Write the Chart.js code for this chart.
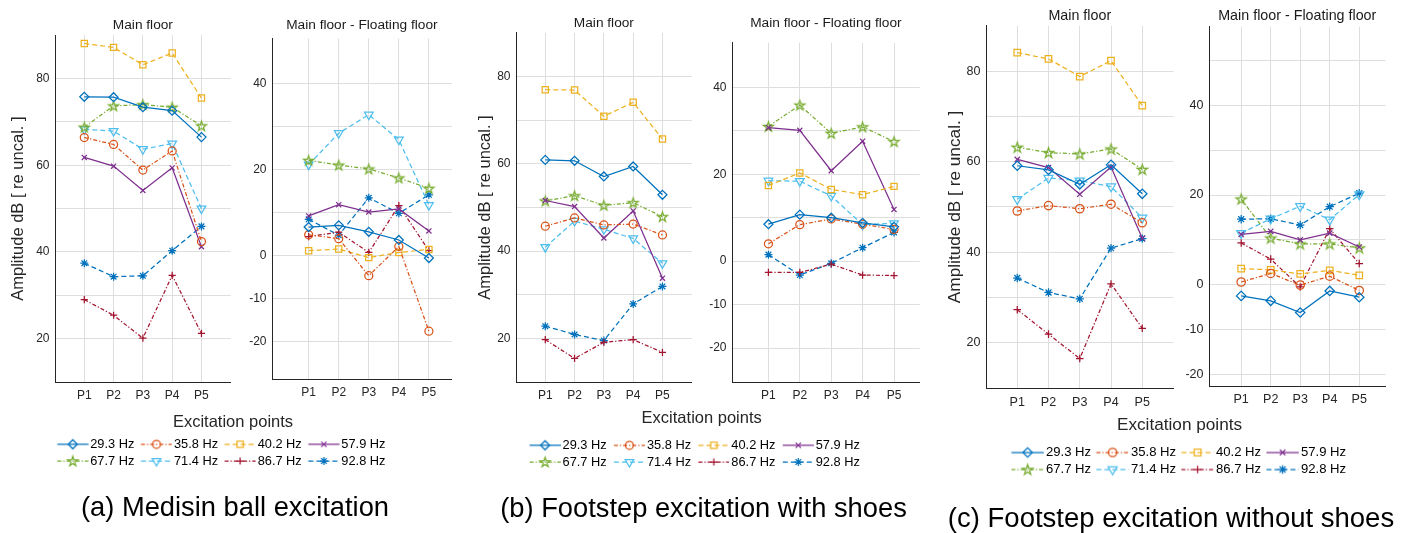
<!DOCTYPE html>
<html><head><meta charset="utf-8">
<script src="https://cdn.jsdelivr.net/npm/chart.js@4.4.1/dist/chart.umd.min.js"></script>
<style>
html,body{margin:0;padding:0;background:#fff;}
body{width:1406px;height:533px;position:relative;overflow:hidden;font-family:"Liberation Sans",Arial,Helvetica,sans-serif;}
canvas{position:absolute;}
.txt{position:absolute;white-space:nowrap;transform:translate(-50%,-50%);line-height:1;}
</style></head><body>
<script>
// ---------------- data ----------------
const excitationPoints = ['P1','P2','P3','P4','P5'];
const frequencies = ['29.3 Hz','35.8 Hz','40.2 Hz','57.9 Hz','67.7 Hz','71.4 Hz','86.7 Hz','92.8 Hz'];
const mainTickLabels = [20,40,60,80];
const diffTickLabels = [40,20,0,-10,-20];
const panelTitles = ['Main floor','Main floor - Floating floor'];
const yAxisTitle = 'Amplitude dB [ re uncal. ]';
const xAxisTitle = 'Excitation points';
const captions = ['(a) Medisin ball excitation','(b) Footstep excitation with shoes','(c) Footstep excitation without shoes'];

// (a) medicine ball excitation
const ballMain = [
  [75.8,75.7,73.4,72.6,66.5],
  [66.4,64.8,58.9,63.3,42.4],
  [88.1,87.2,83.2,85.9,75.5],
  [61.8,59.8,54.2,59.4,41.2],
  [68.8,73.7,74.0,73.4,69.1],
  [68.3,67.9,63.7,65.0,50.0],
  [29.0,25.4,20.1,34.6,21.2],
  [37.4,34.3,34.5,40.3,45.9]
];
const ballDiff = [
  [6.7,7.1,5.6,3.7,-0.5],
  [4.9,4.0,-4.6,2.2,-17.5],
  [1.2,1.6,-0.4,0.8,1.5],
  [9.3,11.9,10.2,10.9,5.8],
  [22.2,21.1,20.2,18.1,15.7],
  [21.2,28.5,32.8,27.0,11.8],
  [4.5,5.5,0.8,11.7,1.2],
  [8.5,4.8,13.5,9.9,14.2]
];
// (b) footstep with shoes
const shoesMain = [
  [60.9,60.7,57.1,59.4,52.9],
  [45.7,47.6,46.0,46.2,43.7],
  [77.0,76.9,70.9,74.1,65.7],
  [51.6,50.2,43.0,49.2,33.8],
  [51.5,52.7,50.5,51.1,47.9],
  [40.9,46.9,45.0,42.9,37.2],
  [19.7,15.4,19.1,19.7,16.8],
  [22.8,20.9,19.5,27.9,31.9]
];
const shoesDiff = [
  [8.5,10.7,10.0,8.8,7.9],
  [4.0,8.4,9.7,8.5,7.3],
  [17.4,20.3,16.5,15.3,17.2],
  [30.7,30.1,20.8,27.6,11.9],
  [31.0,35.9,29.4,30.9,27.5],
  [18.5,18.4,15.0,8.4,8.7],
  [-2.6,-2.6,-0.7,-3.2,-3.3],
  [1.5,-3.2,-0.5,3.1,6.6]
];
// (c) footstep without shoes
const barefootMain = [
  [59.1,58.2,55.0,59.3,52.9],
  [49.1,50.3,49.6,50.6,46.5],
  [84.1,82.7,78.8,82.3,72.4],
  [60.5,58.7,52.8,58.8,43.1],
  [63.2,62.0,61.7,62.8,58.3],
  [51.7,56.4,55.8,54.5,47.6],
  [27.3,21.9,16.5,33.0,23.2],
  [34.3,31.1,29.7,40.9,43.0]
];
const barefootDiff = [
  [-2.5,-3.6,-6.2,-1.4,-2.8],
  [0.6,2.5,-0.1,1.9,-1.3],
  [3.6,3.3,2.4,3.2,2.1],
  [11.2,11.9,10.0,11.5,8.4],
  [19.1,10.4,9.1,9.1,8.2],
  [11.5,14.7,17.5,14.5,20.1],
  [9.3,5.7,-0.5,12.5,4.7],
  [14.6,14.7,13.3,17.4,20.4]
];

// ---------------- styles ----------------
const FAMILY = '"Liberation Sans", Arial, Helvetica, sans-serif';
const seriesColors = ['#0072BD','#D95319','#EDB120','#7E2F8E','#77AC30','#4DBEEE','#A2142F','#0072BD'];
const seriesDash = ['solid','dashdot','dash','solid','dashdot','dash','dashdot','dash'];
const seriesMarkers = ['diamond','circle','square','x','pentagram','tri','plus','asterisk'];
const DASH = {solid: [], dash: [5,3], dashdot: [4,2,1.2,2]};
const LW = 1.25;
const AXIS_COLOR = '#262626';
const GRID_COLOR = '#dedede';

function starPath(ctx, cx, cy, R) {
  const r = R * 0.382;
  ctx.beginPath();
  for (let i = 0; i < 10; i++) {
    const a = -Math.PI / 2 + i * Math.PI / 5;
    const rr = (i % 2) ? r : R;
    const px = cx + rr * Math.cos(a), py = cy + rr * Math.sin(a);
    if (i) ctx.lineTo(px, py); else ctx.moveTo(px, py);
  }
  ctx.closePath();
}
function pentagramCanvas(color, k) {
  const R = 5.2 * k;
  const size = Math.ceil(2 * R + 4);
  const c = document.createElement('canvas');
  c.width = size; c.height = size;
  const ctx = c.getContext('2d');
  ctx.strokeStyle = color; ctx.lineWidth = LW;
  starPath(ctx, size / 2, size / 2 + R * 0.1, R);
  ctx.stroke();
  return c;
}
function markerFor(type, color, k) {
  switch (type) {
    case 'diamond': return {style: 'rectRot', radius: 4.5 * k, rot: 0};
    case 'circle': return {style: 'circle', radius: 4 * k, rot: 0};
    case 'square': return {style: 'rect', radius: 4.4 * k, rot: 0};
    case 'x': return {style: 'crossRot', radius: 3.6 * k, rot: 0};
    case 'pentagram': return {style: pentagramCanvas(color, k), radius: 5 * k, rot: 0};
    case 'tri': return {style: 'triangle', radius: 5 * k, rot: 180};
    case 'plus': return {style: 'cross', radius: 3.6 * k, rot: 0};
    case 'asterisk': return {style: 'star', radius: 4 * k, rot: 0};
  }
}
function drawMarker(ctx, type, x, y, k) {
  ctx.setLineDash([]);
  ctx.beginPath();
  switch (type) {
    case 'diamond': { const r = 4.5 * k; ctx.moveTo(x - r, y); ctx.lineTo(x, y - r); ctx.lineTo(x + r, y); ctx.lineTo(x, y + r); ctx.closePath(); break; }
    case 'circle': ctx.arc(x, y, 4 * k, 0, Math.PI * 2); break;
    case 'square': { const h = 3.2 * k; ctx.rect(x - h, y - h, 2 * h, 2 * h); break; }
    case 'x': { const h = 2.6 * k; ctx.moveTo(x - h, y - h); ctx.lineTo(x + h, y + h); ctx.moveTo(x + h, y - h); ctx.lineTo(x - h, y + h); break; }
    case 'plus': { const h = 3.6 * k; ctx.moveTo(x - h, y); ctx.lineTo(x + h, y); ctx.moveTo(x, y - h); ctx.lineTo(x, y + h); break; }
    case 'asterisk': { const h = 4 * k, d = h * Math.SQRT1_2;
      ctx.moveTo(x - h, y); ctx.lineTo(x + h, y); ctx.moveTo(x, y - h); ctx.lineTo(x, y + h);
      ctx.moveTo(x - d, y - d); ctx.lineTo(x + d, y + d); ctx.moveTo(x + d, y - d); ctx.lineTo(x - d, y + d); break; }
    case 'tri': { const r = 5 * k; ctx.moveTo(x, y + r); ctx.lineTo(x - r * 0.866, y - r * 0.5); ctx.lineTo(x + r * 0.866, y - r * 0.5); ctx.closePath(); break; }
    case 'pentagram': starPath(ctx, x, y + 0.5, 5.2 * k); break;
  }
  ctx.stroke();
}

function buildDatasets(values, k) {
  return values.map((row, i) => {
    const m = markerFor(seriesMarkers[i], seriesColors[i], k);
    return {
      label: frequencies[i],
      data: row.map((v, j) => ({x: j + 1, y: v})),
      borderColor: seriesColors[i],
      borderWidth: LW,
      borderDash: DASH[seriesDash[i]],
      pointStyle: m.style,
      pointRadius: m.radius,
      pointHoverRadius: m.radius,
      pointRotation: m.rot,
      pointBorderColor: seriesColors[i],
      pointBackgroundColor: 'rgba(0,0,0,0)',
      pointBorderWidth: LW,
      tension: 0,
      fill: false
    };
  });
}

// ---------------- panels ----------------
function makePanel(g) {
  const k = g.k;
  const titleFs = 13.7 * k;
  const titleH = titleFs * 1.2 + g.titleGap;
  const xAxisH = 30;
  const plotW = g.plotR - g.plotL, plotH = g.plotB - g.plotT;
  const W = Math.round(g.yAxisW + plotW);
  const H = Math.round(titleH + plotH + xAxisH);
  const c = document.createElement('canvas');
  c.width = W; c.height = H;
  c.style.left = (g.plotL - g.yAxisW) + 'px';
  c.style.top = (g.plotT - titleH) + 'px';
  c.style.width = W + 'px'; c.style.height = H + 'px';
  document.body.appendChild(c);
  const yTitleFs = 16.5 * k;
  const yTitle = g.yTitleX != null ? {
    display: true, text: yAxisTitle, color: AXIS_COLOR,
    font: {family: FAMILY, size: yTitleFs},
    padding: {top: g.yTitleX - (g.plotL - g.yAxisW) - yTitleFs * 0.6, bottom: 0}
  } : {display: false};
  new Chart(c, {
    type: 'line',
    data: {datasets: buildDatasets(g.values, k)},
    options: {
      responsive: false, animation: false, events: [],
      layout: {padding: 0},
      plugins: {
        legend: {display: false},
        tooltip: {enabled: false},
        title: {display: true, text: g.title, fullSize: false, color: '#1a1a1a',
          font: {family: FAMILY, size: titleFs, weight: 'normal'},
          padding: {top: 0, bottom: g.titleGap}}
      },
      scales: {
        x: {
          type: 'linear', min: g.xmin, max: g.xmax,
          afterFit: s => { s.height = xAxisH; },
          afterBuildTicks: s => { s.ticks = excitationPoints.map((p, i) => ({value: i + 1})); },
          ticks: {callback: v => excitationPoints[Math.round(v) - 1] || '', padding: g.xPad, color: AXIS_COLOR,
            font: {family: FAMILY, size: 12 * k}, maxRotation: 0, autoSkip: false},
          grid: {color: GRID_COLOR, drawTicks: false, lineWidth: 1},
          border: {display: true, color: AXIS_COLOR, width: 1}
        },
        y: {
          type: 'linear', min: g.ymin, max: g.ymax,
          afterFit: s => { s.width = g.yAxisW; },
          afterBuildTicks: s => {
            const t = [];
            for (let v = Math.ceil(g.ymin / 10) * 10; v <= g.ymax - 0.6; v += 10) t.push({value: v});
            s.ticks = t;
          },
          ticks: {callback: v => g.labels.includes(v) ? String(v) : '', padding: 5.5, color: AXIS_COLOR,
            font: {family: FAMILY, size: 12 * k}, autoSkip: false},
          grid: {color: GRID_COLOR, drawTicks: false, lineWidth: 1},
          border: {display: true, color: AXIS_COLOR, width: 1},
          title: yTitle
        }
      }
    }
  });
}

// ---------------- legends ----------------
function makeLegend(g) {
  const k = g.k, fs = g.fs;
  const pad = g.rowSp - fs;
  const itemW = g.colSp - pad;
  const mctx = document.createElement('canvas').getContext('2d');
  mctx.font = fs + 'px ' + FAMILY;
  const textW = Math.max(...frequencies.map(f => mctx.measureText(f).width));
  const boxW = itemW - fs / 2 - textW;
  const textOff = boxW + fs / 2;
  const gap = 2 * k, lineLen = 31 * k;
  const lineEnd = textOff - gap;
  const lineBeg = lineEnd - lineLen;
  const iconW = Math.ceil(2 * (lineEnd - boxW / 2));
  const iconLeft = boxW / 2 - iconW / 2;
  const iconH = 16;
  const icons = frequencies.map((f, i) => {
    const ic = document.createElement('canvas');
    ic.width = iconW; ic.height = iconH;
    const ctx = ic.getContext('2d');
    ctx.strokeStyle = seriesColors[i]; ctx.lineWidth = LW;
    ctx.setLineDash(DASH[seriesDash[i]]);
    const y0 = iconH / 2;
    ctx.beginPath(); ctx.moveTo(lineBeg - iconLeft, y0); ctx.lineTo(lineEnd - iconLeft, y0); ctx.stroke();
    drawMarker(ctx, seriesMarkers[i], (lineBeg + lineEnd) / 2 - iconLeft, y0, k);
    return ic;
  });
  const itemX0 = g.lineStart - lineBeg;
  const rowW = 3 * g.colSp + itemW;
  const W = 400, H = 110;
  const c = document.createElement('canvas');
  c.width = W; c.height = H;
  c.style.left = (itemX0 + rowW / 2 - W / 2) + 'px';
  c.style.top = (g.rowY - pad - fs / 2) + 'px';
  c.style.width = W + 'px'; c.style.height = H + 'px';
  document.body.appendChild(c);
  new Chart(c, {
    type: 'line',
    data: {datasets: frequencies.map((f, i) => ({label: f, data: [], borderColor: seriesColors[i]}))},
    options: {
      responsive: false, animation: false, events: [],
      layout: {padding: 0},
      scales: {x: {display: false}, y: {display: false}},
      plugins: {
        tooltip: {enabled: false},
        legend: {
          display: true, position: 'top', align: 'center',
          labels: {
            usePointStyle: true, pointStyleWidth: boxW, padding: pad, color: '#000',
            font: {family: FAMILY, size: fs},
            generateLabels: () => frequencies.map((f, i) => ({
              text: f, pointStyle: icons[i], fillStyle: 'rgba(0,0,0,0)', strokeStyle: 'rgba(0,0,0,0)',
              lineWidth: 0, hidden: false, datasetIndex: i, fontColor: '#000'
            }))
          }
        }
      }
    }
  });
}

function addText(str, x, y, size, color) {
  const d = document.createElement('div');
  d.className = 'txt';
  d.textContent = str;
  d.style.left = x + 'px'; d.style.top = y + 'px';
  d.style.fontSize = size + 'px'; d.style.color = color;
  document.body.appendChild(d);
}

// (a)
makePanel({values: ballMain, title: panelTitles[0], labels: mainTickLabels, k: 1,
  plotL: 55, plotT: 35, plotR: 237, plotB: 382, xmin: 0, xmax: 6, ymin: 10, ymax: 90,
  titleGap: 1.8, yAxisW: 50, yTitleX: 18.7, xPad: 6});
makePanel({values: ballDiff, title: panelTitles[1], labels: diffTickLabels, k: 1,
  plotL: 272, plotT: 39, plotR: 458, plotB: 379, xmin: -0.22, xmax: 5.76, ymin: -28.6, ymax: 50.5,
  titleGap: 5.1, yAxisW: 36, yTitleX: null, xPad: 6.5});
// (b)
makePanel({values: shoesMain, title: panelTitles[0], labels: mainTickLabels, k: 1,
  plotL: 516, plotT: 33, plotR: 698, plotB: 382, xmin: 0, xmax: 6, ymin: 10, ymax: 90,
  titleGap: 1.5, yAxisW: 50, yTitleX: 485, xPad: 6});
makePanel({values: shoesDiff, title: panelTitles[1], labels: diffTickLabels, k: 1,
  plotL: 732, plotT: 43, plotR: 926, plotB: 382, xmin: -0.16, xmax: 5.82, ymin: -27.8, ymax: 50.2,
  titleGap: 11.5, yAxisW: 36, yTitleX: null, xPad: 6.8});
// (c)
makePanel({values: barefootMain, title: panelTitles[0], labels: mainTickLabels, k: 1.045,
  plotL: 986, plotT: 26, plotR: 1180, plotB: 388, xmin: 0, xmax: 6, ymin: 10, ymax: 90,
  titleGap: 1.7, yAxisW: 50, yTitleX: 955, xPad: 7});
makePanel({values: barefootDiff, title: panelTitles[1], labels: diffTickLabels, k: 1.045,
  plotL: 1209, plotT: 27, plotR: 1392, plotB: 386, xmin: -0.09, xmax: 5.89, ymin: -22.6, ymax: 57.5,
  titleGap: 2.7, yAxisW: 36, yTitleX: null, xPad: 5.8});

makeLegend({rowY: 444.3, lineStart: 57, fs: 12.8, colSp: 83.7, rowSp: 16.7, k: 1});
makeLegend({rowY: 445, lineStart: 530, fs: 12.8, colSp: 84.4, rowSp: 16.7, k: 1});
makeLegend({rowY: 452.3, lineStart: 1011.7, fs: 13.1, colSp: 85, rowSp: 17, k: 1.045});

addText(xAxisTitle, 233, 420.7, 16.5, AXIS_COLOR);
addText(xAxisTitle, 701.7, 417.3, 16.5, AXIS_COLOR);
addText(xAxisTitle, 1179.5, 425, 17.2, AXIS_COLOR);
addText(captions[0], 235, 507.3, 27.3, '#000');
addText(captions[1], 703.5, 508.3, 27.3, '#000');
addText(captions[2], 1171, 518.3, 27.5, '#000');
</script>
</body></html>
